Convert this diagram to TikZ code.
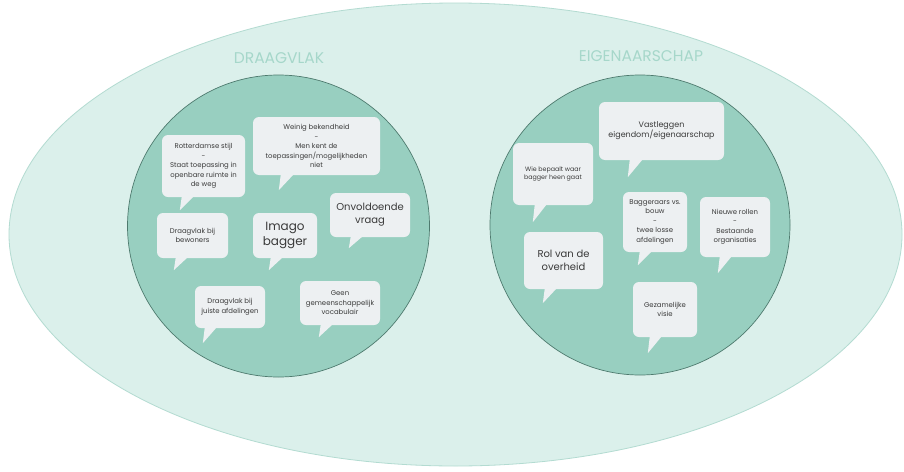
\documentclass[tikz,border=0pt]{standalone}
\usepackage{fontspec}
\setmainfont{Poppins}
\usetikzlibrary{calc}
\definecolor{outerfill}{HTML}{DBF0EB}
\definecolor{outerline}{HTML}{B3DBD1}
\definecolor{innerfill}{HTML}{98CFC0}
\definecolor{innerline}{HTML}{4E7A6E}
\definecolor{bubfill}{HTML}{EDF0F2}
\definecolor{bubtext}{HTML}{3A3A3A}
\definecolor{titlecol}{HTML}{A6D7CA}
\tikzset{
  outerell/.style={fill=outerfill, draw=outerline, line width=0.8pt},
  innerell/.style={fill=innerfill, draw=innerline, line width=0.7pt},
  bub/.style={fill=bubfill, rounded corners=6pt, align=center, text=bubtext, inner sep=2pt, font=\fontsize{6.9}{9.5}\selectfont},
  bubtailstyle/.style={fill=bubfill},
  titlestyle/.style={text=titlecol, font=\fontsize{15.5}{18}\selectfont},
}
\newcommand\bubtail[4]{\fill[bubtailstyle] ($(#1.south west)+(#2,-1)$) -- ($(#1.south west)+(#2-2,#4)$) -- ($(#1.south west)+(#2+#3,-1)$) -- cycle;}
\begin{document}
\begin{tikzpicture}[x=1pt,y=-1pt]
\fill[white] (0,0) rectangle (904,471);
\useasboundingbox (0,0) rectangle (904,471);
% outer ellipse
\draw[outerell] (455.5,234.5) ellipse [x radius=446.5, y radius=231.5];
% titles
\node[titlestyle] (t1) at (279,58) {DRAAGVLAK};
\node[titlestyle] (t2) at (641,56) {EIGENAARSCHAP};
% inner circles
\draw[innerell] (278.5,226) ellipse [x radius=151, y radius=151];
\draw[innerell] (640,225) ellipse [x radius=150, y radius=150];
% left bubbles
\node[bub, minimum width=83pt, minimum height=62pt] (A) at (203.5,166) {Rotterdamse stijl\\-\\Staat toepassing in\\openbare ruimte in\\de weg};
\bubtail{A}{20}{12}{13}
\node[bub, minimum width=127pt, minimum height=58pt] (B) at (316.5,146) {Weinig bekendheid\\-\\Men kent de\\toepassingen/mogelijkheden\\niet};
\bubtail{B}{28}{13}{15}
\node[bub, minimum width=80pt, minimum height=44pt, font=\fontsize{10}{13}\selectfont] (C) at (370,215) {Onvoldoende\\vraag};
\bubtail{C}{21}{12}{11}
\node[bub, minimum width=71pt, minimum height=45pt] (D) at (192.5,235.5) {Draagvlak bij\\bewoners};
\bubtail{D}{19}{12}{12}
\node[bub, minimum width=64pt, minimum height=45pt, font=\fontsize{12}{15}\selectfont] (E) at (285,235.5) {Imago\\bagger};
\bubtail{E}{18}{12}{12}
\node[bub, minimum width=70pt, minimum height=42pt] (F) at (230,307) {Draagvlak bij\\juiste afdelingen};
\bubtail{F}{10}{12}{15}
\node[bub, minimum width=80pt, minimum height=44pt] (G) at (340,303) {Geen\\gemeenschappelijk\\vocabulair};
\bubtail{G}{21}{12}{12}
% right bubbles
\node[bub, minimum width=125pt, minimum height=58pt, font=\fontsize{8}{10}\selectfont] (H) at (661.5,131) {Vastleggen\\eigendom/eigenaarschap};
\bubtail{H}{31}{13}{17}
\node[bub, minimum width=80pt, minimum height=62pt, font=\fontsize{6.3}{8.5}\selectfont] (I) at (553,174) {Wie bepaalt waar\\bagger heen gaat};
\bubtail{I}{22}{12}{17}
\node[bub, minimum width=64pt, minimum height=60pt] (J) at (655,222) {Baggeraars vs.\\bouw\\-\\twee losse\\afdelingen};
\bubtail{J}{17}{12}{13}
\node[bub, minimum width=70pt, minimum height=60pt] (K) at (735,227) {Nieuwe rollen\\-\\Bestaande\\organisaties};
\bubtail{K}{20}{12}{16}
\node[bub, minimum width=79pt, minimum height=57pt, font=\fontsize{10}{13}\selectfont] (L) at (563.5,260.5) {Rol van de\\overheid};
\bubtail{L}{21}{12}{14}
\node[bub, minimum width=64pt, minimum height=55pt] (M) at (665,309.5) {Gezamelijke\\visie};
\bubtail{M}{17}{12}{16}
\end{tikzpicture}
\end{document}
